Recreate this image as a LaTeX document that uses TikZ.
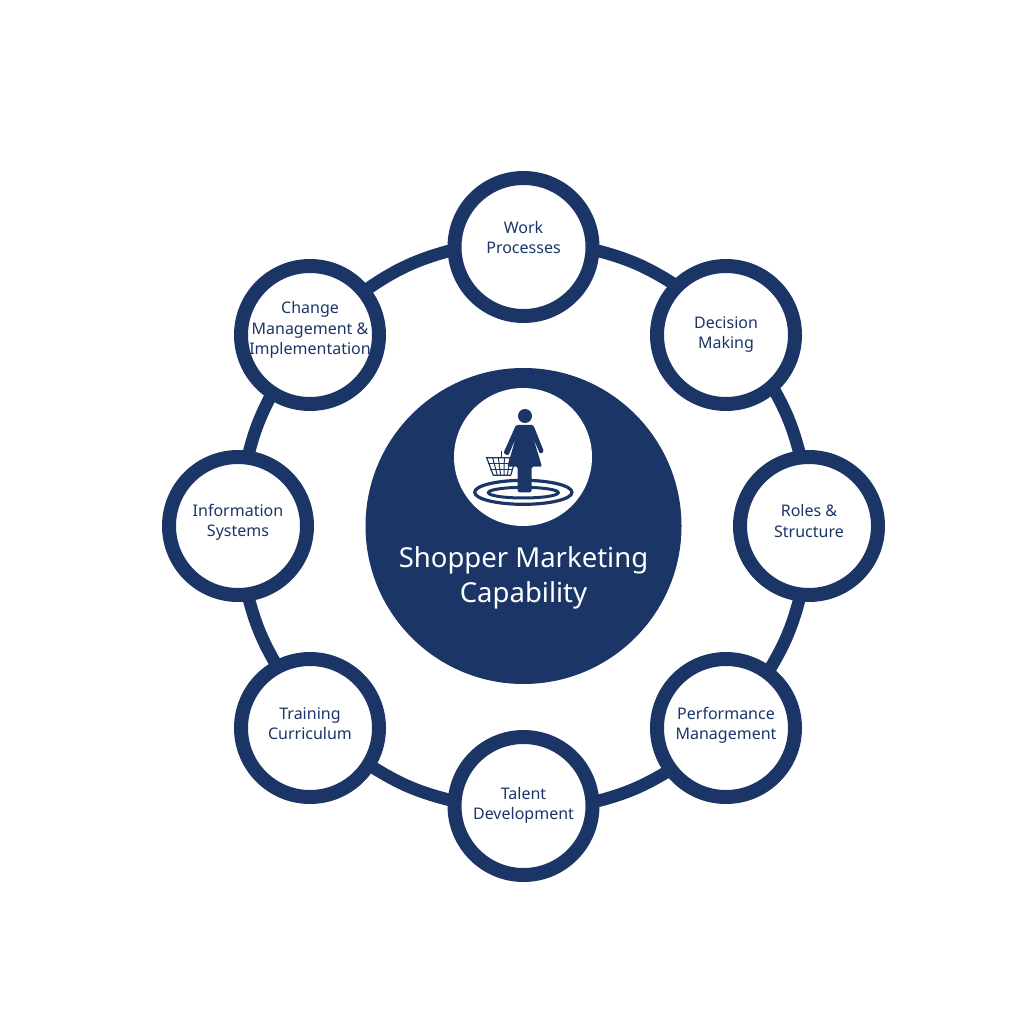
\documentclass[tikz,border=0pt]{standalone}
\usepackage{fontspec}
\setmainfont{Noto Sans}
\usetikzlibrary{backgrounds}
\definecolor{mynavy}{RGB}{27, 54, 102}
\tikzset{
    capnode/.style={circle, draw=mynavy, fill=white, line width=14pt, minimum size=138pt, inner sep=0pt, outer sep=0pt},
    caplabel/.style={align=center, text=mynavy, inner sep=0pt, font=\fontsize{16}{20.4}\selectfont},
    ringlink/.style={draw=mynavy, line width=12.5pt},
    iconline/.style={draw=mynavy, line width=1pt}
}
\begin{document}
\begin{tikzpicture}[x=1pt, y=-1pt]
    \useasboundingbox (0,0) rectangle (1024,1024);

    % Central circle with title
    \node[circle, fill=mynavy, minimum size=316pt, inner sep=0pt] (hub) at (523.5,526) {};
    \node[text=white, align=center, font=\fontsize{27.5}{35.5}\selectfont] (title) at (523.5,578) {Shopper Marketing\\Capability};
    \node[circle, fill=white, minimum size=138pt, inner sep=0pt] (iconbg) at (523,457) {};

    % Capability circles
    \node[capnode] (work) at (523.5,247) {};
    \node[capnode] (decision) at (726,335) {};
    \node[capnode] (roles) at (809,526) {};
    \node[capnode] (performance) at (726,728) {};
    \node[capnode] (talent) at (523.5,806) {};
    \node[capnode] (training) at (310,728) {};
    \node[capnode] (information) at (238,526) {};
    \node[capnode] (change) at (310,335) {};

    % Circle labels
    \node[caplabel] (worklabel) at (523.5,237.5) {Work\\Processes};
    \node[caplabel] (decisionlabel) at (726,334.5) {Decision\\Making};
    \node[caplabel] (roleslabel) at (809,521) {Roles \&\\Structure};
    \node[caplabel] (performancelabel) at (726,725) {Performance\\Management};
    \node[caplabel] (talentlabel) at (523.5,805.5) {Talent\\Development};
    \node[caplabel] (traininglabel) at (310,723.5) {Training\\Curriculum};
    \node[caplabel] (informationlabel) at (238,522.5) {Information\\Systems};
    \node[caplabel] (changelabel) at (310,330) {Change\\Management \&\\Implementation};

    % Ring behind the circles
    \begin{scope}[on background layer]
        \foreach \a/\sa/\b/\sb/\bendang in {work/-2.5/decision/135.2/9.35, decision/-48.6/roles/97.8/7.7, roles/-97.8/performance/53.3/8.55, performance/-143.1/talent/3.3/8.6, talent/176.7/training/-32/9.5, training/118.9/information/-82.2/7.95, information/82.2/change/-123.2/7, change/39.6/work/182.5/10.15}
        {
            \draw[ringlink] (\a.\sa) to[bend left=\bendang] (\b.\sb);
        }
    \end{scope}

    % Shopper icon
    \begin{scope}[shift={(450,385)}, x=0.3333pt, y=-0.3333pt]
        % target rings
        \draw[mynavy, line width=3.2pt] (220,322) ellipse [x radius=146, y radius=36];
        \draw[mynavy, line width=3pt] (220,323) ellipse [x radius=105, y radius=16];
        % basket
        \draw[iconline, line width=1.2pt] (110,218) -- (198,218) -- (182,271) -- (130,271) -- cycle;
        \foreach \x/\y in {128/142, 145/152, 163/162, 180/172}
        {
            \draw[iconline] (\x,218) -- (\y,271);
        }
        \draw[iconline] (115,235) -- (193,235);
        \draw[iconline] (121,253) -- (188,253);
        \draw[iconline, line width=1.4pt] (155,218) -- (155,198);
        % person
        \fill[mynavy] (225,93) circle (7pt);
        \fill[mynavy, rounded corners=1.5pt] (198,120) -- (250,120) -- (282,200) -- (270,207) -- (250,160) -- (276,245) -- (245,245) -- (245,322) -- (203,322) -- (203,245) -- (172,245) -- (197,160) -- (175,212) -- (160,205) -- cycle;
    \end{scope}
\end{tikzpicture}
\end{document}
